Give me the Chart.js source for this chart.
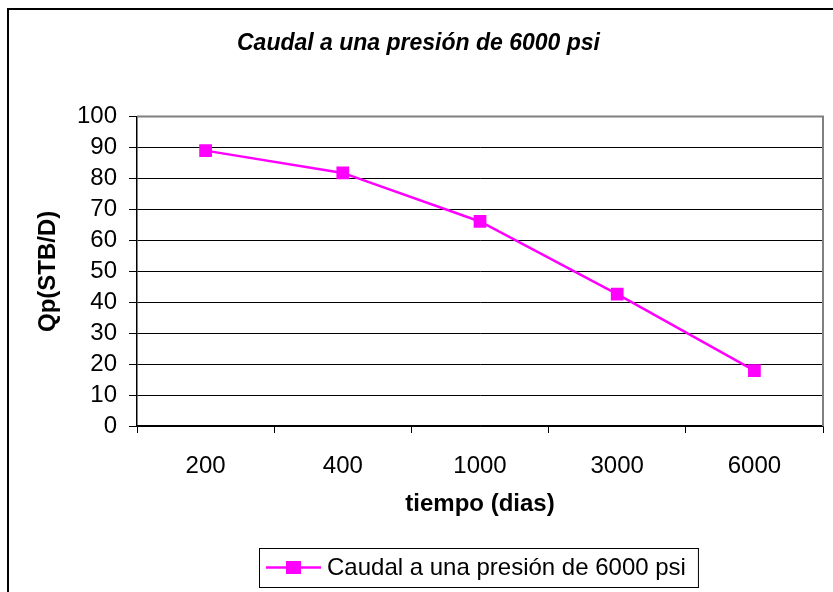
<!DOCTYPE html>
<html lang="es">
<head>
    <meta charset="UTF-8">
    <title>Caudal a una presión de 6000 psi</title>
    <script src="https://cdn.jsdelivr.net/npm/chart.js@4.4.0/dist/chart.umd.min.js"></script>
    <style>
        body { margin: 0; background: #fff; }
        #wrap { width: 833px; height: 592px; }
    </style>
</head>
<body>
    <div id="wrap"><canvas id="myChart" width="833" height="592"></canvas></div>

    <script>
        // datos
        let tiempos = ['200', '400', '1000', '3000', '6000']
        let caudal = [89, 81.8, 66.1, 42.6, 17.9]
        let serieNombre = 'Caudal a una presión de 6000 psi'
        let yMin = 0, yMax = 100, yPaso = 10

        let fuente = 'Liberation Sans, Arial, sans-serif'
        let magenta = '#FF00FF'

        // marco exterior, borde gris del area y leyenda estilo excel
        let marcoExcel = {
            id: 'marcoExcel',
            beforeDatasetsDraw(chart) {
                let ctx = chart.ctx, a = chart.chartArea
                ctx.save()
                ctx.strokeStyle = '#808080'
                ctx.lineWidth = 2
                ctx.beginPath()
                ctx.moveTo(a.left, a.top)
                ctx.lineTo(a.right, a.top)
                ctx.lineTo(a.right, a.bottom)
                ctx.stroke()
                ctx.restore()
            },
            afterDraw(chart) {
                let ctx = chart.ctx
                let ds = chart.data.datasets[0]
                ctx.save()
                // marco del grafico
                ctx.strokeStyle = '#000'
                ctx.lineWidth = 2
                ctx.strokeRect(8, 9, 900, 700)

                // leyenda
                ctx.font = '24px ' + fuente
                let w = ctx.measureText(ds.label).width
                let x0 = 259, y0 = 548, h = 39
                ctx.fillStyle = '#fff'
                ctx.fillRect(x0, y0, 68 + w + 12, h)
                ctx.lineWidth = 1
                ctx.strokeStyle = '#000'
                ctx.strokeRect(x0 + 0.5, y0 + 0.5, 68 + w + 12, h)
                let yc = y0 + h / 2
                ctx.strokeStyle = ds.borderColor
                ctx.lineWidth = 2.5
                ctx.beginPath()
                ctx.moveTo(x0 + 7, yc)
                ctx.lineTo(x0 + 62, yc)
                ctx.stroke()
                ctx.fillStyle = ds.pointBackgroundColor
                ctx.fillRect(x0 + 27, yc - 6.5, 15, 13)
                ctx.fillStyle = '#000'
                ctx.textBaseline = 'middle'
                ctx.fillText(ds.label, x0 + 68, yc + 1)
                ctx.restore()
            }
        }

        let ctx = document.getElementById('myChart').getContext('2d')

        let myChart = new Chart(ctx, {
            type: 'line',
            data: {
                labels: tiempos,
                datasets: [{
                    label: serieNombre,
                    data: caudal,
                    borderColor: magenta,
                    backgroundColor: magenta,
                    borderWidth: 2.5,
                    tension: 0,
                    pointStyle: 'rect',
                    pointRadius: 9,
                    pointBackgroundColor: magenta,
                    pointBorderColor: magenta,
                    pointBorderWidth: 0
                }]
            },
            options: {
                responsive: false,
                animation: false,
                layout: { padding: { left: 14, right: 10, top: 0, bottom: 62 } },
                plugins: {
                    legend: { display: false },
                    tooltip: { enabled: false },
                    title: {
                        display: true,
                        text: serieNombre,
                        color: '#000',
                        font: { family: fuente, size: 23, weight: 'bold', style: 'italic' },
                        padding: { top: 30, bottom: 59 }
                    }
                },
                scales: {
                    x: {
                        offset: true,
                        afterFit(scale) { scale.height = 104 },
                        grid: { display: true, offset: true, drawOnChartArea: false, drawTicks: true, tickLength: 7, color: '#000' },
                        border: { color: '#000', width: 1.5 },
                        ticks: { color: '#000', padding: 19, maxRotation: 0, autoSkip: false, font: { family: fuente, size: 24 } },
                        title: {
                            display: true,
                            text: 'tiempo (dias)',
                            color: '#000',
                            font: { family: fuente, size: 24, weight: 'bold' },
                            padding: { top: 0, bottom: 11 }
                        }
                    },
                    y: {
                        min: yMin,
                        max: yMax,
                        afterFit(scale) { scale.width = 123 },
                        grid: { color: '#000', lineWidth: 1, tickLength: 8 },
                        border: { color: '#000', width: 1.5 },
                        ticks: { stepSize: yPaso, autoSkip: false, color: '#000', padding: 12, font: { family: fuente, size: 24 } },
                        title: {
                            display: true,
                            text: 'Qp(STB/D)',
                            color: '#000',
                            font: { family: fuente, size: 24, weight: 'bold' },
                            padding: { top: 20, bottom: 0 }
                        }
                    }
                }
            },
            plugins: [marcoExcel]
        })
    </script>
</body>
</html>
